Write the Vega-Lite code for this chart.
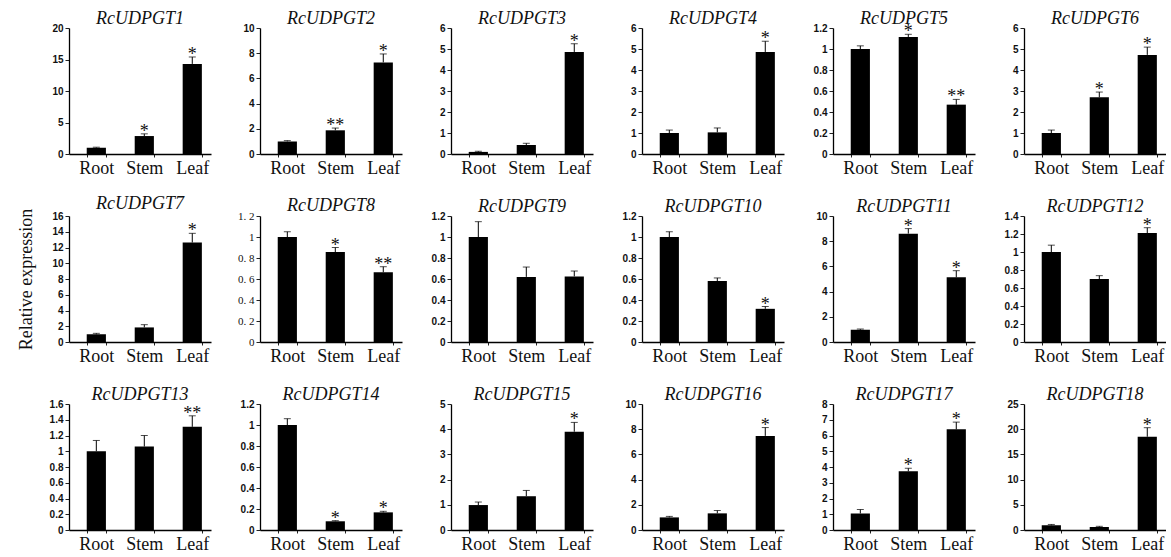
{
  "$schema": "https://vega.github.io/schema/vega-lite/v6.json",
  "background": "white",
  "padding": {"left": 17, "top": 10, "right": 0, "bottom": 0},
  "datasets": {
    "d": [
      {"g": "RcUDPGT1", "t": "Root", "v": 1.0, "hi": 1.08, "s": ""},
      {"g": "RcUDPGT1", "t": "Stem", "v": 2.85, "hi": 3.2, "s": "*"},
      {"g": "RcUDPGT1", "t": "Leaf", "v": 14.3, "hi": 15.4, "s": "*"},
      {"g": "RcUDPGT2", "t": "Root", "v": 1.0, "hi": 1.06, "s": ""},
      {"g": "RcUDPGT2", "t": "Stem", "v": 1.88, "hi": 2.06, "s": "**"},
      {"g": "RcUDPGT2", "t": "Leaf", "v": 7.27, "hi": 7.94, "s": "*"},
      {"g": "RcUDPGT3", "t": "Root", "v": 0.1, "hi": 0.13, "s": ""},
      {"g": "RcUDPGT3", "t": "Stem", "v": 0.43, "hi": 0.51, "s": ""},
      {"g": "RcUDPGT3", "t": "Leaf", "v": 4.86, "hi": 5.25, "s": "*"},
      {"g": "RcUDPGT4", "t": "Root", "v": 1.0, "hi": 1.14, "s": ""},
      {"g": "RcUDPGT4", "t": "Stem", "v": 1.03, "hi": 1.24, "s": ""},
      {"g": "RcUDPGT4", "t": "Leaf", "v": 4.86, "hi": 5.37, "s": "*"},
      {"g": "RcUDPGT5", "t": "Root", "v": 1.0, "hi": 1.03, "s": ""},
      {"g": "RcUDPGT5", "t": "Stem", "v": 1.115, "hi": 1.14, "s": "*"},
      {"g": "RcUDPGT5", "t": "Leaf", "v": 0.47, "hi": 0.52, "s": "**"},
      {"g": "RcUDPGT6", "t": "Root", "v": 1.0, "hi": 1.14, "s": ""},
      {"g": "RcUDPGT6", "t": "Stem", "v": 2.7, "hi": 2.95, "s": "*"},
      {"g": "RcUDPGT6", "t": "Leaf", "v": 4.72, "hi": 5.09, "s": "*"},
      {"g": "RcUDPGT7", "t": "Root", "v": 0.97, "hi": 1.1, "s": ""},
      {"g": "RcUDPGT7", "t": "Stem", "v": 1.85, "hi": 2.2, "s": ""},
      {"g": "RcUDPGT7", "t": "Leaf", "v": 12.63, "hi": 13.8, "s": "*"},
      {"g": "RcUDPGT8", "t": "Root", "v": 1.0, "hi": 1.05, "s": ""},
      {"g": "RcUDPGT8", "t": "Stem", "v": 0.857, "hi": 0.9, "s": "*"},
      {"g": "RcUDPGT8", "t": "Leaf", "v": 0.664, "hi": 0.717, "s": "**"},
      {"g": "RcUDPGT9", "t": "Root", "v": 1.0, "hi": 1.146, "s": ""},
      {"g": "RcUDPGT9", "t": "Stem", "v": 0.62, "hi": 0.714, "s": ""},
      {"g": "RcUDPGT9", "t": "Leaf", "v": 0.625, "hi": 0.676, "s": ""},
      {"g": "RcUDPGT10", "t": "Root", "v": 1.0, "hi": 1.05, "s": ""},
      {"g": "RcUDPGT10", "t": "Stem", "v": 0.58, "hi": 0.61, "s": ""},
      {"g": "RcUDPGT10", "t": "Leaf", "v": 0.316, "hi": 0.338, "s": "*"},
      {"g": "RcUDPGT11", "t": "Root", "v": 0.97, "hi": 1.03, "s": ""},
      {"g": "RcUDPGT11", "t": "Stem", "v": 8.6, "hi": 9.0, "s": "*"},
      {"g": "RcUDPGT11", "t": "Leaf", "v": 5.13, "hi": 5.66, "s": "*"},
      {"g": "RcUDPGT12", "t": "Root", "v": 1.0, "hi": 1.076, "s": ""},
      {"g": "RcUDPGT12", "t": "Stem", "v": 0.7, "hi": 0.737, "s": ""},
      {"g": "RcUDPGT12", "t": "Leaf", "v": 1.21, "hi": 1.27, "s": "*"},
      {"g": "RcUDPGT13", "t": "Root", "v": 1.0, "hi": 1.137, "s": ""},
      {"g": "RcUDPGT13", "t": "Stem", "v": 1.06, "hi": 1.2, "s": ""},
      {"g": "RcUDPGT13", "t": "Leaf", "v": 1.31, "hi": 1.45, "s": "**"},
      {"g": "RcUDPGT14", "t": "Root", "v": 1.0, "hi": 1.06, "s": ""},
      {"g": "RcUDPGT14", "t": "Stem", "v": 0.083, "hi": 0.089, "s": "*"},
      {"g": "RcUDPGT14", "t": "Leaf", "v": 0.168, "hi": 0.178, "s": "*"},
      {"g": "RcUDPGT15", "t": "Root", "v": 0.99, "hi": 1.11, "s": ""},
      {"g": "RcUDPGT15", "t": "Stem", "v": 1.34, "hi": 1.57, "s": ""},
      {"g": "RcUDPGT15", "t": "Leaf", "v": 3.9, "hi": 4.27, "s": "*"},
      {"g": "RcUDPGT16", "t": "Root", "v": 1.0, "hi": 1.08, "s": ""},
      {"g": "RcUDPGT16", "t": "Stem", "v": 1.32, "hi": 1.55, "s": ""},
      {"g": "RcUDPGT16", "t": "Leaf", "v": 7.47, "hi": 8.13, "s": "*"},
      {"g": "RcUDPGT17", "t": "Root", "v": 1.05, "hi": 1.3, "s": ""},
      {"g": "RcUDPGT17", "t": "Stem", "v": 3.73, "hi": 3.92, "s": "*"},
      {"g": "RcUDPGT17", "t": "Leaf", "v": 6.39, "hi": 6.85, "s": "*"},
      {"g": "RcUDPGT18", "t": "Root", "v": 0.93, "hi": 1.1, "s": ""},
      {"g": "RcUDPGT18", "t": "Stem", "v": 0.6, "hi": 0.73, "s": ""},
      {"g": "RcUDPGT18", "t": "Leaf", "v": 18.5, "hi": 20.3, "s": "*"}
    ]
  },
  "data": {"name": "d"},
  "columns": 6,
  "bounds": "flush",
  "spacing": {"row": 62, "column": 49},
  "concat": [
    {"title": "RcUDPGT1", "width": 142, "height": 126, "transform": [{"filter": "datum.g=='RcUDPGT1'"}],
     "encoding": {"x": {"field": "t", "type": "nominal", "sort": ["Root", "Stem", "Leaf"], "title": null, "scale": {"paddingInner": 0.6, "paddingOuter": 0.28, "align": 0.66}}},
     "layer": [
      {"mark": {"type": "bar", "color": "black"}, "encoding": {"y": {"field": "v", "type": "quantitative", "title": null, "scale": {"domain": [0, 20], "nice": false}, "axis": {"values": [0, 5, 10, 15, 20], "tickCount": 30}}}},
      {"mark": {"type": "rule", "color": "black", "strokeWidth": 1}, "encoding": {"y": {"field": "v", "type": "quantitative", "title": null}, "y2": {"field": "hi"}}},
      {"mark": {"type": "tick", "color": "black", "size": 7, "thickness": 1}, "encoding": {"y": {"field": "hi", "type": "quantitative", "title": null}}},
      {"mark": {"type": "text", "font": "Liberation Serif", "fontSize": 18, "baseline": "alphabetic", "dy": 3, "color": "#111"}, "encoding": {"y": {"field": "hi", "type": "quantitative", "title": null}, "text": {"field": "s"}}}
     ]},
    {"title": "RcUDPGT2", "width": 142, "height": 126, "transform": [{"filter": "datum.g=='RcUDPGT2'"}],
     "encoding": {"x": {"field": "t", "type": "nominal", "sort": ["Root", "Stem", "Leaf"], "title": null, "scale": {"paddingInner": 0.6, "paddingOuter": 0.28, "align": 0.66}}},
     "layer": [
      {"mark": {"type": "bar", "color": "black"}, "encoding": {"y": {"field": "v", "type": "quantitative", "title": null, "scale": {"domain": [0, 10], "nice": false}, "axis": {"values": [0, 2, 4, 6, 8, 10], "tickCount": 30}}}},
      {"mark": {"type": "rule", "color": "black", "strokeWidth": 1}, "encoding": {"y": {"field": "v", "type": "quantitative", "title": null}, "y2": {"field": "hi"}}},
      {"mark": {"type": "tick", "color": "black", "size": 7, "thickness": 1}, "encoding": {"y": {"field": "hi", "type": "quantitative", "title": null}}},
      {"mark": {"type": "text", "font": "Liberation Serif", "fontSize": 18, "baseline": "alphabetic", "dy": 3, "color": "#111"}, "encoding": {"y": {"field": "hi", "type": "quantitative", "title": null}, "text": {"field": "s"}}}
     ]},
    {"title": "RcUDPGT3", "width": 142, "height": 126, "transform": [{"filter": "datum.g=='RcUDPGT3'"}],
     "encoding": {"x": {"field": "t", "type": "nominal", "sort": ["Root", "Stem", "Leaf"], "title": null, "scale": {"paddingInner": 0.6, "paddingOuter": 0.28, "align": 0.66}}},
     "layer": [
      {"mark": {"type": "bar", "color": "black"}, "encoding": {"y": {"field": "v", "type": "quantitative", "title": null, "scale": {"domain": [0, 6], "nice": false}, "axis": {"values": [0, 1, 2, 3, 4, 5, 6], "tickCount": 30}}}},
      {"mark": {"type": "rule", "color": "black", "strokeWidth": 1}, "encoding": {"y": {"field": "v", "type": "quantitative", "title": null}, "y2": {"field": "hi"}}},
      {"mark": {"type": "tick", "color": "black", "size": 7, "thickness": 1}, "encoding": {"y": {"field": "hi", "type": "quantitative", "title": null}}},
      {"mark": {"type": "text", "font": "Liberation Serif", "fontSize": 18, "baseline": "alphabetic", "dy": 3, "color": "#111"}, "encoding": {"y": {"field": "hi", "type": "quantitative", "title": null}, "text": {"field": "s"}}}
     ]},
    {"title": "RcUDPGT4", "width": 142, "height": 126, "transform": [{"filter": "datum.g=='RcUDPGT4'"}],
     "encoding": {"x": {"field": "t", "type": "nominal", "sort": ["Root", "Stem", "Leaf"], "title": null, "scale": {"paddingInner": 0.6, "paddingOuter": 0.28, "align": 0.66}}},
     "layer": [
      {"mark": {"type": "bar", "color": "black"}, "encoding": {"y": {"field": "v", "type": "quantitative", "title": null, "scale": {"domain": [0, 6], "nice": false}, "axis": {"values": [0, 1, 2, 3, 4, 5, 6], "tickCount": 30}}}},
      {"mark": {"type": "rule", "color": "black", "strokeWidth": 1}, "encoding": {"y": {"field": "v", "type": "quantitative", "title": null}, "y2": {"field": "hi"}}},
      {"mark": {"type": "tick", "color": "black", "size": 7, "thickness": 1}, "encoding": {"y": {"field": "hi", "type": "quantitative", "title": null}}},
      {"mark": {"type": "text", "font": "Liberation Serif", "fontSize": 18, "baseline": "alphabetic", "dy": 3, "color": "#111"}, "encoding": {"y": {"field": "hi", "type": "quantitative", "title": null}, "text": {"field": "s"}}}
     ]},
    {"title": "RcUDPGT5", "width": 142, "height": 126, "transform": [{"filter": "datum.g=='RcUDPGT5'"}],
     "encoding": {"x": {"field": "t", "type": "nominal", "sort": ["Root", "Stem", "Leaf"], "title": null, "scale": {"paddingInner": 0.6, "paddingOuter": 0.28, "align": 0.66}}},
     "layer": [
      {"mark": {"type": "bar", "color": "black"}, "encoding": {"y": {"field": "v", "type": "quantitative", "title": null, "scale": {"domain": [0, 1.2], "nice": false}, "axis": {"values": [0, 0.2, 0.4, 0.6, 0.8, 1, 1.2], "tickCount": 30}}}},
      {"mark": {"type": "rule", "color": "black", "strokeWidth": 1}, "encoding": {"y": {"field": "v", "type": "quantitative", "title": null}, "y2": {"field": "hi"}}},
      {"mark": {"type": "tick", "color": "black", "size": 7, "thickness": 1}, "encoding": {"y": {"field": "hi", "type": "quantitative", "title": null}}},
      {"mark": {"type": "text", "font": "Liberation Serif", "fontSize": 18, "baseline": "alphabetic", "dy": 3, "color": "#111"}, "encoding": {"y": {"field": "hi", "type": "quantitative", "title": null}, "text": {"field": "s"}}}
     ]},
    {"title": "RcUDPGT6", "width": 142, "height": 126, "transform": [{"filter": "datum.g=='RcUDPGT6'"}],
     "encoding": {"x": {"field": "t", "type": "nominal", "sort": ["Root", "Stem", "Leaf"], "title": null, "scale": {"paddingInner": 0.6, "paddingOuter": 0.28, "align": 0.66}}},
     "layer": [
      {"mark": {"type": "bar", "color": "black"}, "encoding": {"y": {"field": "v", "type": "quantitative", "title": null, "scale": {"domain": [0, 6], "nice": false}, "axis": {"values": [0, 1, 2, 3, 4, 5, 6], "tickCount": 30}}}},
      {"mark": {"type": "rule", "color": "black", "strokeWidth": 1}, "encoding": {"y": {"field": "v", "type": "quantitative", "title": null}, "y2": {"field": "hi"}}},
      {"mark": {"type": "tick", "color": "black", "size": 7, "thickness": 1}, "encoding": {"y": {"field": "hi", "type": "quantitative", "title": null}}},
      {"mark": {"type": "text", "font": "Liberation Serif", "fontSize": 18, "baseline": "alphabetic", "dy": 3, "color": "#111"}, "encoding": {"y": {"field": "hi", "type": "quantitative", "title": null}, "text": {"field": "s"}}}
     ]},
    {"title": "RcUDPGT7", "width": 142, "height": 126, "transform": [{"filter": "datum.g=='RcUDPGT7'"}],
     "encoding": {"x": {"field": "t", "type": "nominal", "sort": ["Root", "Stem", "Leaf"], "title": null, "scale": {"paddingInner": 0.6, "paddingOuter": 0.28, "align": 0.66}}},
     "layer": [
      {"mark": {"type": "bar", "color": "black"}, "encoding": {"y": {"field": "v", "type": "quantitative", "title": "Relative expression", "scale": {"domain": [0, 16], "nice": false}, "axis": {"values": [0, 2, 4, 6, 8, 10, 12, 14, 16], "tickCount": 30}}}},
      {"mark": {"type": "rule", "color": "black", "strokeWidth": 1}, "encoding": {"y": {"field": "v", "type": "quantitative", "title": "Relative expression"}, "y2": {"field": "hi"}}},
      {"mark": {"type": "tick", "color": "black", "size": 7, "thickness": 1}, "encoding": {"y": {"field": "hi", "type": "quantitative", "title": "Relative expression"}}},
      {"mark": {"type": "text", "font": "Liberation Serif", "fontSize": 18, "baseline": "alphabetic", "dy": 3, "color": "#111"}, "encoding": {"y": {"field": "hi", "type": "quantitative", "title": "Relative expression"}, "text": {"field": "s"}}}
     ]},
    {"title": "RcUDPGT8", "width": 142, "height": 126, "transform": [{"filter": "datum.g=='RcUDPGT8'"}],
     "encoding": {"x": {"field": "t", "type": "nominal", "sort": ["Root", "Stem", "Leaf"], "title": null, "scale": {"paddingInner": 0.6, "paddingOuter": 0.28, "align": 0.66}}},
     "layer": [
      {"mark": {"type": "bar", "color": "black"}, "encoding": {"y": {"field": "v", "type": "quantitative", "title": null, "scale": {"domain": [0, 1.2], "nice": false}, "axis": {"values": [0, 0.2, 0.4, 0.6, 0.8, 1, 1.2], "tickCount": 30, "labelExpr": "replace(datum.label, '.', '. ')", "labelFont": "Liberation Serif", "labelFontWeight": "normal", "labelFontSize": 11}}}},
      {"mark": {"type": "rule", "color": "black", "strokeWidth": 1}, "encoding": {"y": {"field": "v", "type": "quantitative", "title": null}, "y2": {"field": "hi"}}},
      {"mark": {"type": "tick", "color": "black", "size": 7, "thickness": 1}, "encoding": {"y": {"field": "hi", "type": "quantitative", "title": null}}},
      {"mark": {"type": "text", "font": "Liberation Serif", "fontSize": 18, "baseline": "alphabetic", "dy": 3, "color": "#111"}, "encoding": {"y": {"field": "hi", "type": "quantitative", "title": null}, "text": {"field": "s"}}}
     ]},
    {"title": "RcUDPGT9", "width": 142, "height": 126, "transform": [{"filter": "datum.g=='RcUDPGT9'"}],
     "encoding": {"x": {"field": "t", "type": "nominal", "sort": ["Root", "Stem", "Leaf"], "title": null, "scale": {"paddingInner": 0.6, "paddingOuter": 0.28, "align": 0.66}}},
     "layer": [
      {"mark": {"type": "bar", "color": "black"}, "encoding": {"y": {"field": "v", "type": "quantitative", "title": null, "scale": {"domain": [0, 1.2], "nice": false}, "axis": {"values": [0, 0.2, 0.4, 0.6, 0.8, 1, 1.2], "tickCount": 30}}}},
      {"mark": {"type": "rule", "color": "black", "strokeWidth": 1}, "encoding": {"y": {"field": "v", "type": "quantitative", "title": null}, "y2": {"field": "hi"}}},
      {"mark": {"type": "tick", "color": "black", "size": 7, "thickness": 1}, "encoding": {"y": {"field": "hi", "type": "quantitative", "title": null}}},
      {"mark": {"type": "text", "font": "Liberation Serif", "fontSize": 18, "baseline": "alphabetic", "dy": 3, "color": "#111"}, "encoding": {"y": {"field": "hi", "type": "quantitative", "title": null}, "text": {"field": "s"}}}
     ]},
    {"title": "RcUDPGT10", "width": 142, "height": 126, "transform": [{"filter": "datum.g=='RcUDPGT10'"}],
     "encoding": {"x": {"field": "t", "type": "nominal", "sort": ["Root", "Stem", "Leaf"], "title": null, "scale": {"paddingInner": 0.6, "paddingOuter": 0.28, "align": 0.66}}},
     "layer": [
      {"mark": {"type": "bar", "color": "black"}, "encoding": {"y": {"field": "v", "type": "quantitative", "title": null, "scale": {"domain": [0, 1.2], "nice": false}, "axis": {"values": [0, 0.2, 0.4, 0.6, 0.8, 1, 1.2], "tickCount": 30}}}},
      {"mark": {"type": "rule", "color": "black", "strokeWidth": 1}, "encoding": {"y": {"field": "v", "type": "quantitative", "title": null}, "y2": {"field": "hi"}}},
      {"mark": {"type": "tick", "color": "black", "size": 7, "thickness": 1}, "encoding": {"y": {"field": "hi", "type": "quantitative", "title": null}}},
      {"mark": {"type": "text", "font": "Liberation Serif", "fontSize": 18, "baseline": "alphabetic", "dy": 3, "color": "#111"}, "encoding": {"y": {"field": "hi", "type": "quantitative", "title": null}, "text": {"field": "s"}}}
     ]},
    {"title": "RcUDPGT11", "width": 142, "height": 126, "transform": [{"filter": "datum.g=='RcUDPGT11'"}],
     "encoding": {"x": {"field": "t", "type": "nominal", "sort": ["Root", "Stem", "Leaf"], "title": null, "scale": {"paddingInner": 0.6, "paddingOuter": 0.28, "align": 0.66}}},
     "layer": [
      {"mark": {"type": "bar", "color": "black"}, "encoding": {"y": {"field": "v", "type": "quantitative", "title": null, "scale": {"domain": [0, 10], "nice": false}, "axis": {"values": [0, 2, 4, 6, 8, 10], "tickCount": 30}}}},
      {"mark": {"type": "rule", "color": "black", "strokeWidth": 1}, "encoding": {"y": {"field": "v", "type": "quantitative", "title": null}, "y2": {"field": "hi"}}},
      {"mark": {"type": "tick", "color": "black", "size": 7, "thickness": 1}, "encoding": {"y": {"field": "hi", "type": "quantitative", "title": null}}},
      {"mark": {"type": "text", "font": "Liberation Serif", "fontSize": 18, "baseline": "alphabetic", "dy": 3, "color": "#111"}, "encoding": {"y": {"field": "hi", "type": "quantitative", "title": null}, "text": {"field": "s"}}}
     ]},
    {"title": "RcUDPGT12", "width": 142, "height": 126, "transform": [{"filter": "datum.g=='RcUDPGT12'"}],
     "encoding": {"x": {"field": "t", "type": "nominal", "sort": ["Root", "Stem", "Leaf"], "title": null, "scale": {"paddingInner": 0.6, "paddingOuter": 0.28, "align": 0.66}}},
     "layer": [
      {"mark": {"type": "bar", "color": "black"}, "encoding": {"y": {"field": "v", "type": "quantitative", "title": null, "scale": {"domain": [0, 1.4], "nice": false}, "axis": {"values": [0, 0.2, 0.4, 0.6, 0.8, 1, 1.2, 1.4], "tickCount": 30}}}},
      {"mark": {"type": "rule", "color": "black", "strokeWidth": 1}, "encoding": {"y": {"field": "v", "type": "quantitative", "title": null}, "y2": {"field": "hi"}}},
      {"mark": {"type": "tick", "color": "black", "size": 7, "thickness": 1}, "encoding": {"y": {"field": "hi", "type": "quantitative", "title": null}}},
      {"mark": {"type": "text", "font": "Liberation Serif", "fontSize": 18, "baseline": "alphabetic", "dy": 3, "color": "#111"}, "encoding": {"y": {"field": "hi", "type": "quantitative", "title": null}, "text": {"field": "s"}}}
     ]},
    {"title": "RcUDPGT13", "width": 142, "height": 126, "transform": [{"filter": "datum.g=='RcUDPGT13'"}],
     "encoding": {"x": {"field": "t", "type": "nominal", "sort": ["Root", "Stem", "Leaf"], "title": null, "scale": {"paddingInner": 0.6, "paddingOuter": 0.28, "align": 0.66}}},
     "layer": [
      {"mark": {"type": "bar", "color": "black"}, "encoding": {"y": {"field": "v", "type": "quantitative", "title": null, "scale": {"domain": [0, 1.6], "nice": false}, "axis": {"values": [0, 0.2, 0.4, 0.6, 0.8, 1, 1.2, 1.4, 1.6], "tickCount": 30}}}},
      {"mark": {"type": "rule", "color": "black", "strokeWidth": 1}, "encoding": {"y": {"field": "v", "type": "quantitative", "title": null}, "y2": {"field": "hi"}}},
      {"mark": {"type": "tick", "color": "black", "size": 7, "thickness": 1}, "encoding": {"y": {"field": "hi", "type": "quantitative", "title": null}}},
      {"mark": {"type": "text", "font": "Liberation Serif", "fontSize": 18, "baseline": "alphabetic", "dy": 3, "color": "#111"}, "encoding": {"y": {"field": "hi", "type": "quantitative", "title": null}, "text": {"field": "s"}}}
     ]},
    {"title": "RcUDPGT14", "width": 142, "height": 126, "transform": [{"filter": "datum.g=='RcUDPGT14'"}],
     "encoding": {"x": {"field": "t", "type": "nominal", "sort": ["Root", "Stem", "Leaf"], "title": null, "scale": {"paddingInner": 0.6, "paddingOuter": 0.28, "align": 0.66}}},
     "layer": [
      {"mark": {"type": "bar", "color": "black"}, "encoding": {"y": {"field": "v", "type": "quantitative", "title": null, "scale": {"domain": [0, 1.2], "nice": false}, "axis": {"values": [0, 0.2, 0.4, 0.6, 0.8, 1, 1.2], "tickCount": 30}}}},
      {"mark": {"type": "rule", "color": "black", "strokeWidth": 1}, "encoding": {"y": {"field": "v", "type": "quantitative", "title": null}, "y2": {"field": "hi"}}},
      {"mark": {"type": "tick", "color": "black", "size": 7, "thickness": 1}, "encoding": {"y": {"field": "hi", "type": "quantitative", "title": null}}},
      {"mark": {"type": "text", "font": "Liberation Serif", "fontSize": 18, "baseline": "alphabetic", "dy": 3, "color": "#111"}, "encoding": {"y": {"field": "hi", "type": "quantitative", "title": null}, "text": {"field": "s"}}}
     ]},
    {"title": "RcUDPGT15", "width": 142, "height": 126, "transform": [{"filter": "datum.g=='RcUDPGT15'"}],
     "encoding": {"x": {"field": "t", "type": "nominal", "sort": ["Root", "Stem", "Leaf"], "title": null, "scale": {"paddingInner": 0.6, "paddingOuter": 0.28, "align": 0.66}}},
     "layer": [
      {"mark": {"type": "bar", "color": "black"}, "encoding": {"y": {"field": "v", "type": "quantitative", "title": null, "scale": {"domain": [0, 5], "nice": false}, "axis": {"values": [0, 1, 2, 3, 4, 5], "tickCount": 30}}}},
      {"mark": {"type": "rule", "color": "black", "strokeWidth": 1}, "encoding": {"y": {"field": "v", "type": "quantitative", "title": null}, "y2": {"field": "hi"}}},
      {"mark": {"type": "tick", "color": "black", "size": 7, "thickness": 1}, "encoding": {"y": {"field": "hi", "type": "quantitative", "title": null}}},
      {"mark": {"type": "text", "font": "Liberation Serif", "fontSize": 18, "baseline": "alphabetic", "dy": 3, "color": "#111"}, "encoding": {"y": {"field": "hi", "type": "quantitative", "title": null}, "text": {"field": "s"}}}
     ]},
    {"title": "RcUDPGT16", "width": 142, "height": 126, "transform": [{"filter": "datum.g=='RcUDPGT16'"}],
     "encoding": {"x": {"field": "t", "type": "nominal", "sort": ["Root", "Stem", "Leaf"], "title": null, "scale": {"paddingInner": 0.6, "paddingOuter": 0.28, "align": 0.66}}},
     "layer": [
      {"mark": {"type": "bar", "color": "black"}, "encoding": {"y": {"field": "v", "type": "quantitative", "title": null, "scale": {"domain": [0, 10], "nice": false}, "axis": {"values": [0, 2, 4, 6, 8, 10], "tickCount": 30}}}},
      {"mark": {"type": "rule", "color": "black", "strokeWidth": 1}, "encoding": {"y": {"field": "v", "type": "quantitative", "title": null}, "y2": {"field": "hi"}}},
      {"mark": {"type": "tick", "color": "black", "size": 7, "thickness": 1}, "encoding": {"y": {"field": "hi", "type": "quantitative", "title": null}}},
      {"mark": {"type": "text", "font": "Liberation Serif", "fontSize": 18, "baseline": "alphabetic", "dy": 3, "color": "#111"}, "encoding": {"y": {"field": "hi", "type": "quantitative", "title": null}, "text": {"field": "s"}}}
     ]},
    {"title": "RcUDPGT17", "width": 142, "height": 126, "transform": [{"filter": "datum.g=='RcUDPGT17'"}],
     "encoding": {"x": {"field": "t", "type": "nominal", "sort": ["Root", "Stem", "Leaf"], "title": null, "scale": {"paddingInner": 0.6, "paddingOuter": 0.28, "align": 0.66}}},
     "layer": [
      {"mark": {"type": "bar", "color": "black"}, "encoding": {"y": {"field": "v", "type": "quantitative", "title": null, "scale": {"domain": [0, 8], "nice": false}, "axis": {"values": [0, 1, 2, 3, 4, 5, 6, 7, 8], "tickCount": 30}}}},
      {"mark": {"type": "rule", "color": "black", "strokeWidth": 1}, "encoding": {"y": {"field": "v", "type": "quantitative", "title": null}, "y2": {"field": "hi"}}},
      {"mark": {"type": "tick", "color": "black", "size": 7, "thickness": 1}, "encoding": {"y": {"field": "hi", "type": "quantitative", "title": null}}},
      {"mark": {"type": "text", "font": "Liberation Serif", "fontSize": 18, "baseline": "alphabetic", "dy": 3, "color": "#111"}, "encoding": {"y": {"field": "hi", "type": "quantitative", "title": null}, "text": {"field": "s"}}}
     ]},
    {"title": "RcUDPGT18", "width": 142, "height": 126, "transform": [{"filter": "datum.g=='RcUDPGT18'"}],
     "encoding": {"x": {"field": "t", "type": "nominal", "sort": ["Root", "Stem", "Leaf"], "title": null, "scale": {"paddingInner": 0.6, "paddingOuter": 0.28, "align": 0.66}}},
     "layer": [
      {"mark": {"type": "bar", "color": "black"}, "encoding": {"y": {"field": "v", "type": "quantitative", "title": null, "scale": {"domain": [0, 25], "nice": false}, "axis": {"values": [0, 5, 10, 15, 20, 25], "tickCount": 30}}}},
      {"mark": {"type": "rule", "color": "black", "strokeWidth": 1}, "encoding": {"y": {"field": "v", "type": "quantitative", "title": null}, "y2": {"field": "hi"}}},
      {"mark": {"type": "tick", "color": "black", "size": 7, "thickness": 1}, "encoding": {"y": {"field": "hi", "type": "quantitative", "title": null}}},
      {"mark": {"type": "text", "font": "Liberation Serif", "fontSize": 18, "baseline": "alphabetic", "dy": 3, "color": "#111"}, "encoding": {"y": {"field": "hi", "type": "quantitative", "title": null}, "text": {"field": "s"}}}
     ]}
  ],
  "config": {
    "view": {"stroke": null},
    "numberFormat": "~g",
    "axis": {"grid": false, "domainColor": "#000", "domainWidth": 1.3, "tickColor": "#222", "tickWidth": 1, "labelColor": "#111"},
    "axisY": {"labelFont": "Liberation Sans", "labelFontWeight": "bold", "labelFontSize": 10, "tickSize": 4, "labelPadding": 2, "labelOverlap": false, "labelFlush": false, "tickCount": 30, "titleFont": "Liberation Serif", "titleFontSize": 18, "titleFontWeight": "normal", "titleColor": "#111", "titlePadding": 16},
    "axisX": {"labelFont": "Liberation Serif", "labelFontSize": 18, "labelAngle": 0, "tickSize": 3, "tickBand": "extent", "labelPadding": 2},
    "title": {"font": "Liberation Serif", "fontStyle": "italic", "fontSize": 18, "fontWeight": "normal", "offset": -5, "color": "#111"}
  }
}
